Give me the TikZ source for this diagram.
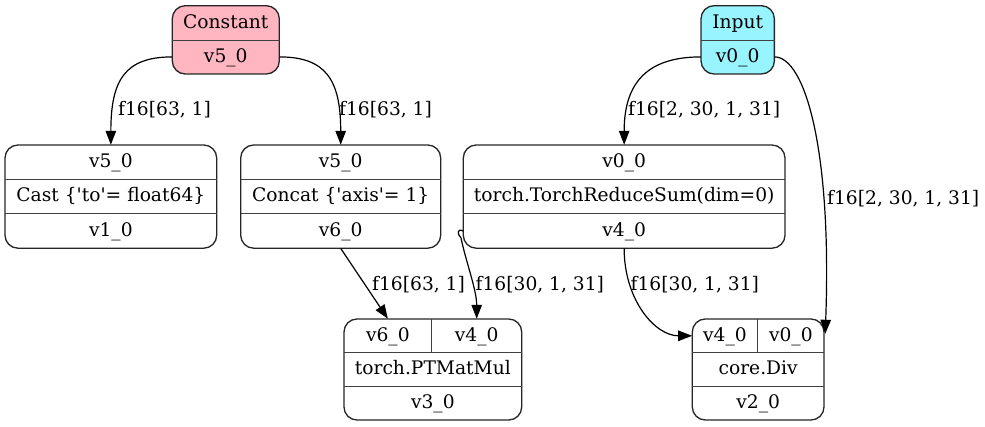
\documentclass[tikz,border=0pt]{standalone}
\usepackage{fontspec}
\setmainfont{DejaVu Serif}
\usetikzlibrary{arrows.meta}

% lengths below are in pixel-sized points; the y axis grows downwards
\tikzset{
  box/.style={draw=black!85, line width=1.33pt, rounded corners=13pt, inner sep=0pt},
  cell/.style={inner sep=0pt, text height=14pt, text depth=3.33pt},
  rule/.style={draw=black!75, line width=1pt},
  lbl/.style={inner sep=0pt, anchor=west, text height=14pt, text depth=3.33pt},
  flow/.style={draw=black, line width=1.2pt, -{Triangle[length=14pt,width=10.5pt]}},
}
\definecolor{constfill}{HTML}{FFB6C1}
\definecolor{inputfill}{HTML}{98F5FF}

\begin{document}
\begin{tikzpicture}[x=1pt, y=-1pt, font=\fontsize{18.67}{22}\selectfont]
\useasboundingbox (0,0) rectangle (985,427);

% ---- source nodes ----
\node[box, fill=constfill, minimum width=107pt, minimum height=68.3pt] (const) at (225.8,39.85) {};
\node[cell, minimum width=107pt, minimum height=34.15pt] (const-name) at (225.8,22.8) {Constant};
\node[cell, minimum width=107pt, minimum height=34.15pt] (const-out) at (225.8,56.9) {v5\_0};
\draw[rule] (const-name.south west) -- (const-name.south east);

\node[box, fill=inputfill, minimum width=73.3pt, minimum height=68.3pt] (input) at (737.7,39.85) {};
\node[cell, minimum width=73.3pt, minimum height=34.15pt] (in-name) at (737.7,22.8) {Input};
\node[cell, minimum width=73.3pt, minimum height=34.15pt] (in-out) at (737.7,56.9) {v0\_0};
\draw[rule] (in-name.south west) -- (in-name.south east);

% ---- middle row ----
\node[box, minimum width=211.7pt, minimum height=103.2pt] (cast) at (110.85,196.6) {};
\node[cell, minimum width=211.7pt, minimum height=34.4pt] (cast-in) at (110.85,162.2) {v5\_0};
\node[cell, minimum width=211.7pt, minimum height=34.4pt] (cast-op) at (110.85,196.6) {Cast \{\textquotesingle to\textquotesingle= float64\}};
\node[cell, minimum width=211.7pt, minimum height=34.4pt] (cast-out) at (110.85,231.0) {v1\_0};
\draw[rule] (cast-op.north west) -- (cast-op.north east);
\draw[rule] (cast-op.south west) -- (cast-op.south east);

\node[box, minimum width=200pt, minimum height=103.2pt] (concat) at (340.7,196.6) {};
\node[cell, minimum width=200pt, minimum height=34.4pt] (concat-in) at (340.7,162.2) {v5\_0};
\node[cell, minimum width=200pt, minimum height=34.4pt] (concat-op) at (340.7,196.6) {Concat \{\textquotesingle axis\textquotesingle= 1\}};
\node[cell, minimum width=200pt, minimum height=34.4pt] (concat-out) at (340.7,231.0) {v6\_0};
\draw[rule] (concat-op.north west) -- (concat-op.north east);
\draw[rule] (concat-op.south west) -- (concat-op.south east);

\node[box, minimum width=321.7pt, minimum height=103.2pt] (rs) at (624.15,196.6) {};
\node[cell, minimum width=321.7pt, minimum height=34.4pt] (rs-in) at (624.15,162.2) {v0\_0};
\node[cell, minimum width=321.7pt, minimum height=34.4pt] (rs-op) at (624.15,196.6) {torch.TorchReduceSum(dim=0)};
\node[cell, minimum width=321.7pt, minimum height=34.4pt] (rs-out) at (624.15,231.0) {v4\_0};
\draw[rule] (rs-op.north west) -- (rs-op.north east);
\draw[rule] (rs-op.south west) -- (rs-op.south east);

% ---- bottom row ----
\node[box, minimum width=177.7pt, minimum height=101pt] (mm) at (432.85,369.5) {};
\node[cell, minimum width=87.7pt, minimum height=33.67pt] (mm-a) at (387.85,335.8) {v6\_0};
\node[cell, minimum width=90pt, minimum height=33.67pt] (mm-b) at (476.7,335.8) {v4\_0};
\node[cell, minimum width=177.7pt, minimum height=33.67pt] (mm-op) at (432.85,369.5) {torch.PTMatMul};
\node[cell, minimum width=177.7pt, minimum height=33.67pt] (mm-out) at (432.85,403.2) {v3\_0};
\draw[rule] (mm-a.north east) -- (mm-a.south east);
\draw[rule] (mm-op.north west) -- (mm-op.north east);
\draw[rule] (mm-op.south west) -- (mm-op.south east);

\node[box, minimum width=131.7pt, minimum height=101pt] (div) at (758.15,369.5) {};
\node[cell, minimum width=65.4pt, minimum height=33.67pt] (div-a) at (725,335.8) {v4\_0};
\node[cell, minimum width=66.3pt, minimum height=33.67pt] (div-b) at (790.85,335.8) {v0\_0};
\node[cell, minimum width=131.7pt, minimum height=33.67pt] (div-op) at (758.15,369.5) {core.Div};
\node[cell, minimum width=131.7pt, minimum height=33.67pt] (div-out) at (758.15,403.2) {v2\_0};
\draw[rule] (div-a.north east) -- (div-a.south east);
\draw[rule] (div-op.north west) -- (div-op.north east);
\draw[rule] (div-op.south west) -- (div-op.south east);

% ---- connectors ----
\draw[flow] (const-out.west) .. controls (125,57) and (110.85,80) .. (cast-in.north);
\draw[flow] (const-out.east) .. controls (326,57) and (340.7,80) .. (concat-in.north);
\draw[flow] (in-out.west) .. controls (650,57) and (624.15,80) .. (rs-in.north);
\draw[flow] (in-out.east) .. controls (805,57) and (832,150) .. ([xshift=1pt,yshift=2pt]div-b.east);
\draw[flow] (concat-out.south) -- (mm-a.north);
\draw[flow] (rs-out.west) .. controls (457,228) and (457,234) .. (461,238)
  .. controls (466,262) and (476.7,290) .. (mm-b.north);
\draw[flow] (rs-out.south) .. controls (624.15,300) and (655,335.8) .. (div-a.west);

% ---- connector labels ----
\node[lbl] (l1) at (118,110.5) {f16[63, 1]};
\node[lbl] (l2) at (339,110.5) {f16[63, 1]};
\node[lbl] (l3) at (628,110.5) {f16[2, 30, 1, 31]};
\node[lbl] (l4) at (827,199) {f16[2, 30, 1, 31]};
\node[lbl] (l5) at (372,285.5) {f16[63, 1]};
\node[lbl] (l6) at (475.5,285.5) {f16[30, 1, 31]};
\node[lbl] (l7) at (630.5,285.5) {f16[30, 1, 31]};
\end{tikzpicture}
\end{document}
